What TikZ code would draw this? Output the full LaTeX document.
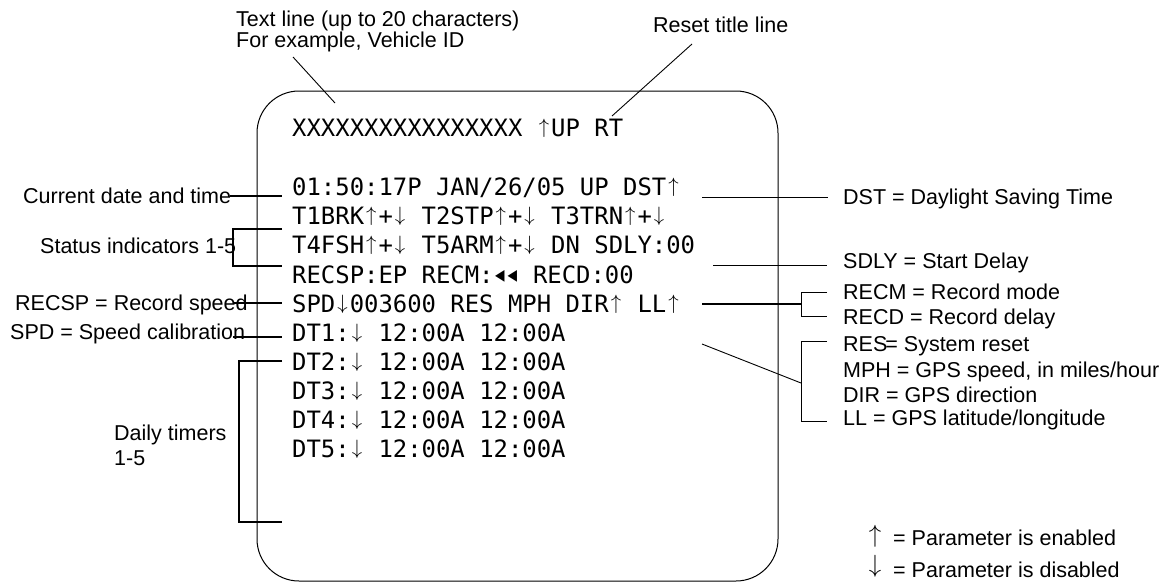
\documentclass[tikz,border=0pt]{standalone}
\usepackage{fontspec}
\setmainfont{Liberation Sans}
\newfontfamily\scrfont{DejaVu Sans Mono}
\newcommand\scrup{\makebox[14.39pt]{\fontsize{20.74}{24}\selectfont\raisebox{3pt}{$\uparrow$}}}
\newcommand\scrdn{\makebox[14.39pt]{\fontsize{20.74}{24}\selectfont\raisebox{3pt}{$\downarrow$}}}
\newcommand\scrtri{\makebox[12.5pt]{\raisebox{1.5pt}{\resizebox{9.5pt}{11pt}{◀}}}}
\begin{document}
\begin{tikzpicture}[x=1pt,y=-1pt,
  lbl/.style={font=\fontsize{21.5}{24}\selectfont, inner sep=0pt, anchor=base west},
  scr/.style={font=\scrfont\fontsize{23.9}{29}\selectfont, inner sep=0pt, anchor=base west},
  leadthin/.style={line width=0.9pt},
  leadthick/.style={line width=1.8pt},
  arrowsym/.style={font=\fontsize{24.88}{28}\selectfont, inner sep=0pt, anchor=center}
]
\useasboundingbox (0,0) rectangle (1173,582);

% screen outline
\draw[line width=1pt, rounded corners=42pt] (257,91) rectangle (778,581);

% top labels
\node[lbl] (tl1) at (236,26.7) {Text line (up to 20 characters)};
\node[lbl] (tl2) at (236,47.7) {For example, Vehicle ID};
\node[lbl] (rtl) at (653,32.5) {Reset title line};

% screen text
\node[scr] (x0) at (292,136.5) {XXXXXXXXXXXXXXXX \scrup UP RT};
\node[scr] (r0) at (292,195.7) {01:50:17P JAN/26/05 UP DST\scrup};
\node[scr] (r1) at (292,224.8) {T1BRK\scrup+\scrdn{} T2STP\scrup+\scrdn{} T3TRN\scrup+\scrdn};
\node[scr] (r2) at (292,253.9) {T4FSH\scrup+\scrdn{} T5ARM\scrup+\scrdn{} DN SDLY:00};
\node[scr] (r3) at (292,283.0) {RECSP:EP RECM:\scrtri\scrtri{} RECD:00};
\node[scr] (r4) at (292,312.1) {SPD\scrdn 003600 RES MPH DIR\scrup{} LL\scrup};
\node[scr] (r5) at (292,341.2) {DT1:\scrdn{} 12:00A 12:00A};
\node[scr] (r6) at (292,370.3) {DT2:\scrdn{} 12:00A 12:00A};
\node[scr] (r7) at (292,399.4) {DT3:\scrdn{} 12:00A 12:00A};
\node[scr] (r8) at (292,428.5) {DT4:\scrdn{} 12:00A 12:00A};
\node[scr] (r9) at (292,457.6) {DT5:\scrdn{} 12:00A 12:00A};

% left labels
\node[lbl] (cdt) at (23,203.7) {Current date and time};
\node[lbl] (sti) at (40,253.7) {Status indicators 1-5};
\node[lbl] (rsp) at (15,310.7) {RECSP = Record speed};
\node[lbl] (spd) at (10,339.7) {SPD = Speed calibration};
\node[lbl] (dt1) at (114,440.7) {Daily timers};
\node[lbl] (dt2) at (114,465.7) {1-5};

% right labels
\node[lbl] (dst) at (843,204.7) {DST = Daylight Saving Time};
\node[lbl] (sdly) at (843,268.7) {SDLY = Start Delay};
\node[lbl] (recm) at (843,299.7) {RECM = Record mode};
\node[lbl] (recd) at (843,324.7) {RECD = Record delay};
\node[lbl] (res) at (843,351.7) {RES\kern-2pt= System reset};
\node[lbl] (mph) at (843,377.7) {MPH = GPS speed, in miles/hour};
\node[lbl] (dir) at (843,402.7) {DIR = GPS direction};
\node[lbl] (ll) at (843,425.7) {LL = GPS latitude/longitude};

% legend
\node[arrowsym] (up) at (875,536) {$\uparrow$};
\node[lbl] (upt) at (893,545.7) {= Parameter is enabled};
\node[arrowsym] (dn) at (875,566) {$\downarrow$};
\node[lbl] (dnt) at (893,577.7) {= Parameter is disabled};

% coordinates for leader ends
\coordinate (tla) at (293,57);
\coordinate (tlb) at (335,103);
\coordinate (rta) at (692,44);
\coordinate (rtb) at (612,116);

\coordinate (c0a) at (230,196);  \coordinate (c0b) at (282,196);
\coordinate (s1t) at (282,229);  \coordinate (b1t) at (233,229);
\coordinate (s1b) at (282,266);  \coordinate (b1b) at (233,266);
\coordinate (c3a) at (233,303);  \coordinate (c3b) at (282,303);
\coordinate (c4a) at (233,337);  \coordinate (c4b) at (282,337);
\coordinate (s2t) at (282,361);  \coordinate (b2t) at (239,361);
\coordinate (s2b) at (282,522);  \coordinate (b2b) at (239,522);

\coordinate (d0a) at (702,197);  \coordinate (d0b) at (828,197);
\coordinate (d1a) at (713,265);  \coordinate (d1b) at (827,265);
\coordinate (d2a) at (702,304);  \coordinate (d2m) at (801,304);
\coordinate (e1t) at (827,292);  \coordinate (k1t) at (801,292);
\coordinate (e1b) at (827,316);  \coordinate (k1b) at (801,316);
\coordinate (d3a) at (702,344);  \coordinate (d3m) at (801,383);
\coordinate (e2t) at (827,341);  \coordinate (k2t) at (801,341);
\coordinate (e2b) at (827,421);  \coordinate (k2b) at (801,421);

% top leaders
\draw[leadthin] (tla) -- (tlb);
\draw[leadthin] (rta) -- (rtb);

% left leaders
\draw[leadthick] (c0a) -- (c0b);
\draw[leadthick] (s1t) -- (b1t) -- (b1b) -- (s1b);
\draw[leadthick] (c3a) -- (c3b);
\draw[leadthick] (c4a) -- (c4b);
\draw[leadthick] (s2t) -- (b2t) -- (b2b) -- (s2b);

% right leaders
\draw[leadthin] (d0a) -- (d0b);
\draw[leadthin] (d1a) -- (d1b);
\draw[leadthick] (d2a) -- (d2m);
\draw[leadthin] (e1t) -- (k1t) -- (k1b) -- (e1b);
\draw[leadthin] (d3a) -- (d3m);
\draw[leadthin] (e2t) -- (k2t) -- (k2b) -- (e2b);
\end{tikzpicture}
\end{document}
